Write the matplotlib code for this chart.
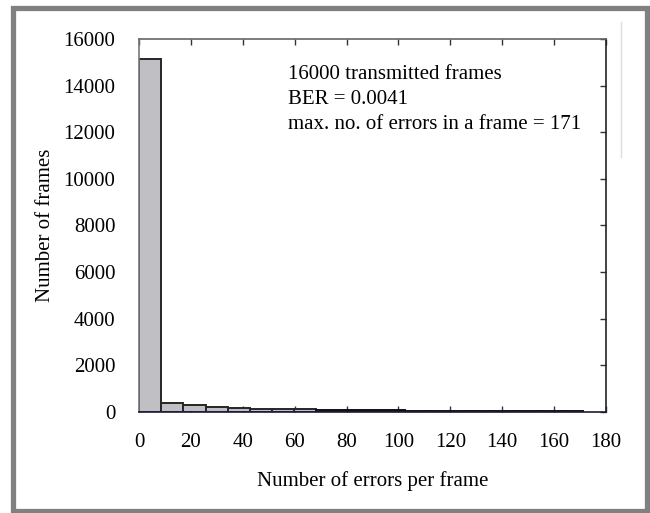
import numpy as np
import matplotlib
matplotlib.use('Agg')
import matplotlib.pyplot as plt
from matplotlib.patches import Rectangle
from matplotlib.lines import Line2D

plt.rcParams['font.family'] = ['Liberation Serif', 'DejaVu Serif']

# histogram of errors per frame (20 bins over 0..171)
bin_width = 8.55
counts = [15150, 370, 280, 200, 180, 140, 130, 130,
          80, 75, 70, 65, 60, 60, 55, 55, 50, 50, 45, 40]
xticks = [0, 20, 40, 60, 80, 100, 120, 140, 160, 180]
yticks = [0, 2000, 4000, 6000, 8000, 10000, 12000, 14000, 16000]
note = ['16000 transmitted frames', 'BER = 0.0041',
        'max. no. of errors in a frame = 171']

fig = plt.figure(figsize=(6.5, 5.13), dpi=100)
ax = fig.add_axes([139/650, 101/513, 467/650, 373/513])

lefts = np.arange(len(counts)) * bin_width
ax.bar(lefts[:8], counts[:8], width=bin_width, align='edge',
       color='#bfbfc4', edgecolor='#262626', linewidth=1.4, zorder=2)
# the tail bins are so low that only their outlines show (reads as black)
ax.bar(lefts[8:], counts[8:], width=bin_width, align='edge',
       color='#1a1a1a', edgecolor='#111111', linewidth=1.4, zorder=2)

ax.set_xlim(0, 180)
ax.set_ylim(0, 16000)
ax.set_xticks(xticks)
ax.set_yticks(yticks)
ax.tick_params(axis='x', direction='in', top=True, bottom=True, length=4,
               width=1, pad=15, labelsize=15, color='#333333')
ax.tick_params(axis='y', direction='in', left=False, right=True, labelleft=True,
               length=4, width=1, pad=17, labelsize=15, color='#333333')

ax.spines['left'].set_color('#777777')
ax.spines['top'].set_color('#666666')
ax.spines['right'].set_color('#222222')
ax.spines['bottom'].set_color('#1c1c3c')
for s in ax.spines.values():
    s.set_linewidth(1.2)

ax.set_xlabel('Number of errors per frame', fontsize=15, labelpad=14)
ax.set_ylabel('Number of frames', fontsize=15, labelpad=6)

ax.text(0.319, 0.93, '\n'.join(note), transform=ax.transAxes,
        fontsize=15, va='top', ha='left', linespacing=1.43)

# outer frame and stray line
fig.patches.append(Rectangle((12.5/650, 2.5/513), 634.5/650, 503/513,
                             transform=fig.transFigure, fill=False,
                             edgecolor='#808080', linewidth=3.8))
fig.lines.append(Line2D([621/650, 621/650], [1 - 22/513, 1 - 157/513],
                        transform=fig.transFigure, color='#dddddd', linewidth=1))

fig.savefig('out.png', dpi=100)
